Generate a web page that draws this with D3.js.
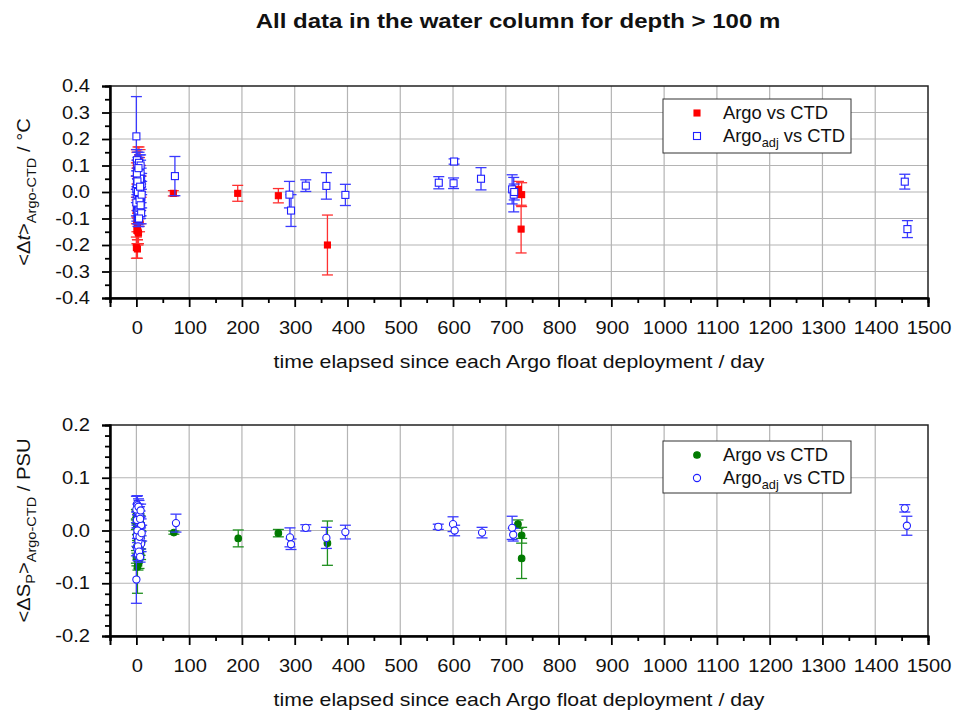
<!DOCTYPE html>
<html><head><meta charset="utf-8">
<script src="https://cdn.jsdelivr.net/npm/d3@7"></script>
<style>
body{margin:0;background:#fff}
text{font-family:Arial,"Liberation Sans",sans-serif;fill:#111}
</style></head>
<body><svg id="c" width="953" height="714"></svg>
<script>
// ---------- data: [days, value, error] ----------
const tempArgo = [
  [0,0.11,0.05],[1,0.09,0.06],[2,0.07,0.05],[3,0.04,0.06],[4,0.01,0.05],[5,-0.02,0.06],[6,-0.05,0.05],
  [7,-0.08,0.04],[8,0.05,0.05],[9,0.02,0.04],[0,0.06,0.05],[1,0.03,0.06],[2,0.00,0.05],[3,-0.03,0.06],
  [4,-0.06,0.05],[5,-0.09,0.04],[6,0.08,0.05],[7,0.10,0.06],[8,-0.02,0.05],[0,-0.07,0.05],[1,-0.11,0.04],
  [2,-0.13,0.05],[3,-0.15,0.05],[4,-0.155,0.04],[0,-0.21,0.04],[2,-0.215,0.035],[1,-0.145,0.05],
  [5,0.12,0.05],[3,0.13,0.04],[6,-0.11,0.04],
  [70,-0.005,0.01],[192,-0.005,0.03],[269,-0.014,0.027],[362,-0.20,0.113],
  [724,0.01,0.03],[730,-0.01,0.045],[729,-0.14,0.09]
];
const tempAdj = [
  [0,0.21,0.15],[1,0.12,0.04],[2,0.10,0.05],[3,0.08,0.05],[4,0.06,0.06],[5,0.04,0.05],[6,0.02,0.05],
  [7,0.00,0.06],[8,-0.02,0.05],[9,-0.04,0.05],[10,0.03,0.04],[1,-0.06,0.05],[2,-0.08,0.04],[3,-0.10,0.03],
  [4,-0.09,0.04],[5,0.11,0.04],[6,0.09,0.05],[7,-0.03,0.06],[8,0.07,0.05],[9,0.05,0.04],[0,0.01,0.05],
  [1,0.03,0.05],[2,-0.01,0.06],[3,-0.05,0.05],[4,-0.07,0.05],[5,-0.02,0.05],[6,-0.06,0.04],[7,0.05,0.05],
  [8,0.10,0.04],[9,-0.08,0.04],[0,-0.04,0.05],[1,0.07,0.05],[2,0.04,0.05],[3,0.00,0.05],[4,0.09,0.04],
  [5,-0.10,0.03],[6,-0.03,0.05],[7,0.02,0.05],[8,-0.05,0.05],[10,-0.01,0.05],
  [73,0.06,0.074],[290,-0.01,0.05],[293,-0.07,0.06],[321,0.024,0.022],[360,0.023,0.05],
  [396,-0.011,0.04],[573,0.035,0.023],[601,0.033,0.02],[602,0.115,0.01],[653,0.05,0.042],
  [712,0.01,0.055],[715,-0.01,0.065],[716,0.0,0.03],[1456,0.039,0.028],[1461,-0.14,0.032]
];
const salArgo = [
  [0,0.03,0.01],[1,0.025,0.012],[2,0.015,0.01],[3,0.005,0.012],[4,-0.005,0.01],[5,-0.015,0.012],
  [6,-0.025,0.01],[7,-0.035,0.012],[8,-0.045,0.01],[1,-0.055,0.012],[3,-0.065,0.01],[2,-0.069,0.05],
  [0,0.012,0.01],[5,0.022,0.01],[4,-0.04,0.012],[6,0.0,0.012],[7,0.018,0.01],[2,-0.02,0.012],
  [8,-0.01,0.01],[0,-0.05,0.012],[3,0.028,0.008],[5,-0.06,0.012],
  [71,-0.004,0.003],[193,-0.015,0.016],[269,-0.005,0.007],[362,-0.024,0.042],
  [723,0.012,0.008],[730,-0.009,0.015],[730,-0.053,0.038]
];
const salAdj = [
  [0,-0.093,0.045],[1,0.05,0.015],[2,0.048,0.018],[3,0.035,0.015],[4,0.025,0.02],[5,0.015,0.015],
  [6,0.005,0.02],[7,-0.005,0.015],[8,-0.015,0.02],[9,-0.025,0.015],[2,-0.035,0.012],[3,-0.045,0.012],
  [5,0.042,0.015],[1,-0.01,0.02],[4,-0.02,0.015],[6,0.03,0.015],[9,0.01,0.012],[0,0.04,0.025],
  [1,0.02,0.015],[2,0.0,0.015],[3,-0.03,0.015],[4,0.045,0.015],[5,-0.04,0.012],[6,-0.012,0.015],
  [7,0.022,0.015],[8,0.038,0.012],[10,-0.005,0.015],[7,-0.05,0.01],
  [75,0.014,0.017],[291,-0.013,0.018],[293,-0.026,0.01],[321,0.005,0.006],[360,-0.014,0.02],
  [396,-0.003,0.013],[572,0.007,0.005],[600,0.012,0.014],[603,0.0,0.01],[655,-0.004,0.01],
  [712,0.005,0.022],[714,-0.008,0.012],[1456,0.042,0.007],[1460,0.009,0.018]
];

const xMajor = [0,100,200,300,400,500,600,700,800,900,1000,1100,1200,1300,1400,1500];
const xMinor = [-50,50,150,250,350,450,550,650,750,850,950,1050,1150,1250,1350,1450];
const tMajor = [-0.4,-0.3,-0.2,-0.1,0.0,0.1,0.2,0.3,0.4];
const tMinor = [-0.35,-0.25,-0.15,-0.05,0.05,0.15,0.25,0.35];
const sMajor = [-0.2,-0.1,0.0,0.1,0.2];
const sMinor = [-0.18,-0.16,-0.14,-0.12,-0.08,-0.06,-0.04,-0.02,0.02,0.04,0.06,0.08,0.12,0.14,0.16,0.18];

const svg = d3.select("#c");
const X0 = 110, X1 = 928;
const x = d3.scaleLinear().domain([-50,1500]).range([X0,X1]);

// stretched text helper (reference glyphs are horizontally wide)
function stext(g, px, py, str, size, anchor, sx, rot){
  return g.append("text")
    .attr("transform",`translate(${px},${py})${rot?` rotate(${rot})`:""} scale(${sx},1)`)
    .attr("text-anchor",anchor).attr("font-size",size).text(str);
}

stext(svg, 518, 28, "All data in the water column for depth > 100 m", 20, "middle", 1.2)
  .attr("font-weight","bold");

function panel(o){
  const y = d3.scaleLinear().domain(o.dom).range([o.bot,o.top]);
  const g = svg.append("g");
  g.selectAll(".gv").data(xMajor.filter(v=>v<1500)).enter().append("line")
    .attr("x1",d=>x(d)).attr("x2",d=>x(d)).attr("y1",o.top).attr("y2",o.bot)
    .attr("stroke","#b4b4b4").attr("stroke-width",1.2);
  g.selectAll(".gh").data(o.major.filter(v=>v>o.dom[0] && v<o.dom[1])).enter().append("line")
    .attr("x1",X0).attr("x2",X1).attr("y1",d=>y(d)).attr("y2",d=>y(d))
    .attr("stroke","#b4b4b4").attr("stroke-width",1.2);
  g.append("rect").attr("x",X0).attr("y",o.top).attr("width",X1-X0).attr("height",o.bot-o.top)
    .attr("fill","none").attr("stroke","#222").attr("stroke-width",1.5);
  const axg = g.append("g").attr("transform",`translate(0,${o.bot})`)
    .call(d3.axisBottom(x).tickValues(xMajor).tickSize(9).tickFormat(""));
  const axm = g.append("g").attr("transform",`translate(0,${o.bot})`)
    .call(d3.axisBottom(x).tickValues(xMinor).tickSize(5).tickFormat(""));
  const ayg = g.append("g").attr("transform",`translate(${X0},0)`)
    .call(d3.axisLeft(y).tickValues(o.major).tickSize(8).tickFormat(""));
  const aym = g.append("g").attr("transform",`translate(${X0},0)`)
    .call(d3.axisLeft(y).tickValues(o.minor).tickSize(5).tickFormat(""));
  [axg,axm,ayg,aym].forEach(a=>{
    a.select(".domain").attr("stroke","#000").attr("stroke-width",2);
    a.selectAll(".tick line").attr("stroke","#000").attr("stroke-width",1.8);
  });
  // tick labels
  xMajor.forEach(v=> stext(g, x(v)+1, o.bot+36, String(v), 17.5, "middle", 1.15));
  o.major.forEach(v=> stext(g, X0-20, y(v)+6, d3.format(".1f")(v).replace("−","-"), 17.5, "end", 1.15));
  // x title
  stext(g, 519, o.bot+70, "time elapsed since each Argo float deployment / day", 18, "middle", 1.18);
  // y title
  const yt = stext(g, 30, (o.top+o.bot)/2, "", 18, "middle", 1.12, -90);
  o.ylabel(yt);

  o.series.forEach(s=>{
    const sg = g.append("g");
    const eb = sg.selectAll(".e").data(s.data).enter().append("g");
    eb.append("line").attr("x1",d=>x(d[0])).attr("x2",d=>x(d[0]))
      .attr("y1",d=>y(d[1]-d[2])).attr("y2",d=>y(d[1]+d[2]));
    eb.append("line").attr("x1",d=>x(d[0])-5.5).attr("x2",d=>x(d[0])+5.5)
      .attr("y1",d=>y(d[1]-d[2])).attr("y2",d=>y(d[1]-d[2]));
    eb.append("line").attr("x1",d=>x(d[0])-5.5).attr("x2",d=>x(d[0])+5.5)
      .attr("y1",d=>y(d[1]+d[2])).attr("y2",d=>y(d[1]+d[2]));
    eb.selectAll("line").attr("stroke",s.ecol).attr("stroke-width",1.3);
    drawMarks(sg.selectAll(".m").data(s.data).enter(), s, d=>x(d[0]), d=>y(d[1]));
  });
  const L = g.append("g").attr("transform",`translate(663,${o.legY})`);
  L.append("rect").attr("width",188).attr("height",o.legH).attr("fill","#fff")
    .attr("stroke","#333").attr("stroke-width",1);
  o.series.forEach((s,i)=>{
    const ly = 14 + i*23;
    drawMarks(L.selectAll(".lm"+i).data([0]).enter(), s, ()=>34, ()=>ly);
    const t = stext(L, 60, ly+6, "", 18, "start", 1.02);
    if(s.adj){
      t.append("tspan").text("Argo");
      t.append("tspan").attr("dy",5).attr("font-size",12.5).text("adj");
      t.append("tspan").attr("dy",-5).text(" vs CTD");
    } else t.text("Argo vs CTD");
  });
}

function drawMarks(sel, s, fx, fy){
  if(s.shape==="square"){
    const h = s.fill==="none" ? 3.5 : 3;
    sel.append("rect").attr("x",d=>fx(d)-h).attr("y",d=>fy(d)-h).attr("width",2*h).attr("height",2*h)
      .attr("fill",s.fill==="none"?"#fff":s.col).attr("stroke",s.col).attr("stroke-width",1.1);
  } else {
    sel.append("circle").attr("cx",fx).attr("cy",fy).attr("r",s.fill==="none"?3.6:3.3)
      .attr("fill",s.fill==="none"?"#fff":s.col).attr("stroke",s.col).attr("stroke-width",1.1);
  }
}

panel({top:86, bot:298, dom:[-0.4,0.4], major:tMajor, minor:tMinor, legY:99, legH:54,
  ylabel: t=>{
    t.append("tspan").text("<Δ");
    t.append("tspan").attr("font-style","italic").text("t");
    t.append("tspan").text(">");
    t.append("tspan").attr("dy",6).attr("font-size",13).text("Argo-CTD");
    t.append("tspan").attr("dy",-6).text(" / °C");
  },
  series:[
    {data:tempArgo, col:"#ff0000", ecol:"#ff3030", shape:"square", fill:"fill"},
    {data:tempAdj, col:"#2020ff", ecol:"#3a3aff", shape:"square", fill:"none", adj:true}
  ]});

panel({top:425, bot:636, dom:[-0.2,0.2], major:sMajor, minor:sMinor, legY:441, legH:52,
  ylabel: t=>{
    t.append("tspan").text("<ΔS");
    t.append("tspan").attr("dy",5).attr("font-size",13).text("P");
    t.append("tspan").attr("dy",-5).text(">");
    t.append("tspan").attr("dy",6).attr("font-size",13).text("Argo-CTD");
    t.append("tspan").attr("dy",-6).text(" / PSU");
  },
  series:[
    {data:salArgo, col:"#007a00", ecol:"#1f8f1f", shape:"circle", fill:"fill"},
    {data:salAdj, col:"#2020ff", ecol:"#3a3aff", shape:"circle", fill:"none", adj:true}
  ]});
</script></body></html>
